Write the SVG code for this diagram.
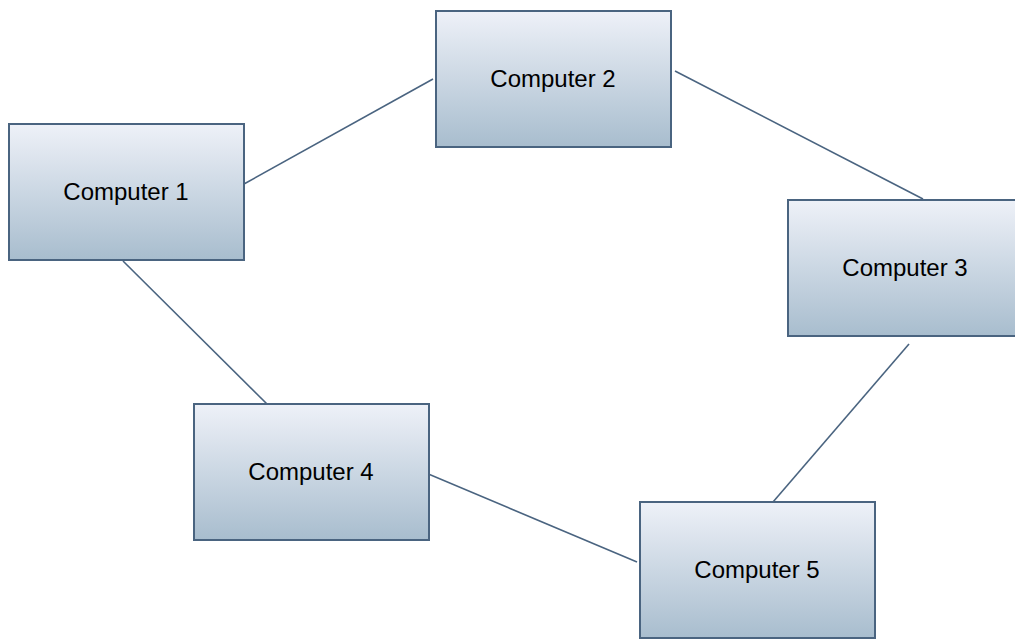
<svg xmlns="http://www.w3.org/2000/svg" width="1015" height="639" viewBox="0 0 1015 639">
<defs>
<linearGradient id="g" x1="0" y1="0" x2="0" y2="1">
<stop offset="0" stop-color="#eef1f8"/>
<stop offset="1" stop-color="#a8bdce"/>
</linearGradient>
</defs>
<style>
.box{fill:url(#g);stroke:#4a6480;stroke-width:2}
.lbl{font-family:"Liberation Sans",Arial,sans-serif;font-size:24px;fill:#000;text-anchor:middle;dominant-baseline:central}
.edge{stroke:#4a6480;stroke-width:1.6;fill:none}
</style>
<rect width="1015" height="639" fill="#fff"/>
<g id="connectors">
<line class="edge" x1="244" y1="184" x2="433" y2="79"/>
<line class="edge" x1="675" y1="71" x2="923" y2="199"/>
<line class="edge" x1="909" y1="344" x2="773" y2="502"/>
<line class="edge" x1="123" y1="261" x2="267" y2="404"/>
<line class="edge" x1="426" y1="473" x2="637" y2="562"/>
</g>
<g id="computer1"><rect class="box" x="9" y="124" width="235" height="136"/><text class="lbl" x="126" y="191">Computer 1</text></g>
<g id="computer2"><rect class="box" x="436" y="11" width="235" height="136"/><text class="lbl" x="553" y="78">Computer 2</text></g>
<g id="computer3"><rect class="box" x="788" y="200" width="235" height="136"/><text class="lbl" x="905" y="267">Computer 3</text></g>
<g id="computer4"><rect class="box" x="194" y="404" width="235" height="136"/><text class="lbl" x="311" y="471">Computer 4</text></g>
<g id="computer5"><rect class="box" x="640" y="502" width="235" height="136"/><text class="lbl" x="757" y="569">Computer 5</text></g>
</svg>
